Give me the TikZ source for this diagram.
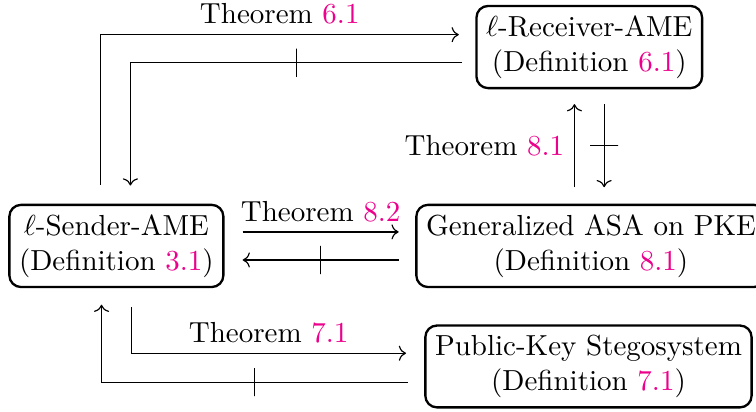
\documentclass[tikz,border=0pt]{standalone}
\usepackage{amsmath,amssymb}
\usetikzlibrary{arrows.meta,calc,positioning}
\definecolor{RefPink}{RGB}{236,0,140}
\newcommand{\refnum}[1]{\textcolor{RefPink}{#1}}

\begin{document}
\begin{tikzpicture}[
  box/.style={draw,thick,rounded corners=4pt,align=center},
  noimpl/.style={draw,sloped,minimum height=0.34cm,minimum width=0pt,inner sep=0pt}]
  \useasboundingbox (0,0) rectangle (9.16,4.99);
  \node[box] (recv) at (7.14,4.42) {$\ell$-Receiver-AME\\(Definition \refnum{6.1})};
  \node[box] (send) at (1.41,2.01) {$\ell$-Sender-AME\\(Definition \refnum{3.1})};
  \node[box] (asa)  at (7.16,2.01) {Generalized ASA on PKE\\(Definition \refnum{8.1})};
  \node[box] (steg) at (7.13,0.55) {Public-Key Stegosystem\\(Definition \refnum{7.1})};
  % sender <-> receiver
  \draw[->] ($(send.north)+(-0.19,0.23)$) |- ($(recv.west)+(-0.2,0.15)$)
    node[pos=0.75,above] {Theorem \refnum{6.1}};
  \draw[->] ($(recv.west)+(-0.16,-0.19)$) -| ($(send.north)+(0.17,0.22)$)
    node[noimpl,pos=0.25] {};
  % asa <-> receiver
  \draw[->] ($(recv.south |- asa.north)+(-0.18,0.2)$) -- ($(recv.south)+(-0.18,-0.18)$)
    node[midway,left] {Theorem \refnum{8.1}};
  \draw[->] ($(recv.south)+(0.18,-0.18)$) -- ($(recv.south |- asa.north)+(0.18,0.2)$)
    node[noimpl,midway] {};
  % sender <-> asa
  \draw[->] ($(send.east)+(0.22,0.17)$) -- ($(asa.west)+(-0.2,0.17)$)
    node[midway,above] {Theorem \refnum{8.2}};
  \draw[->] ($(asa.west)+(-0.2,-0.17)$) -- ($(send.east)+(0.22,-0.17)$)
    node[noimpl,midway] {};
  % sender <-> stego
  \draw[->] ($(send.south)+(0.18,-0.23)$) |- ($(steg.west)+(-0.22,0.16)$)
    node[pos=0.75,above] {Theorem \refnum{7.1}};
  \draw[->] ($(steg.west)+(-0.2,-0.19)$) -| ($(send.south)+(-0.18,-0.2)$)
    node[noimpl,pos=0.25] {};
\end{tikzpicture}
\end{document}
